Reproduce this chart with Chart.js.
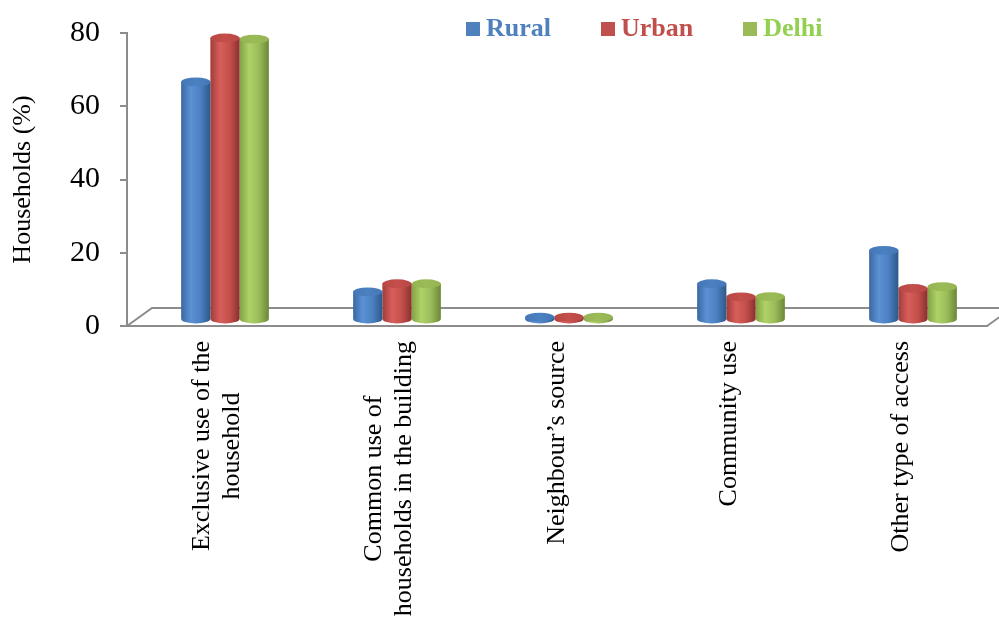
<!DOCTYPE html>
<html>
<head>
    <title>Households by type of access</title>
    <script src="https://cdn.jsdelivr.net/npm/chart.js@4.4.0/dist/chart.umd.min.js"></script>
    <style>
        body { margin: 0; background: #fff; }
        .wrap { position: relative; width: 999px; height: 622px; }
        .wrap canvas { position: absolute; left: 0; top: 0; }
        .legend {
            position: absolute; left: 466px; top: 15px;
            display: flex; gap: 50px;
            font: bold 26px "Liberation Serif", "Times New Roman", serif;
            line-height: 1;
        }
        .legend span.box {
            display: inline-block; width: 14px; height: 14px;
            margin-right: 6px; vertical-align: baseline;
        }
    </style>
</head>
<body>
<div class="wrap">
    <canvas id="accessChart" width="999" height="622"></canvas>
    <div class="legend" id="legend"></div>
</div>

<script>
    const categories = [
        ['Exclusive use of the', 'household'],
        ['Common use of', 'households in the building'],
        ['Neighbour’s source'],
        ['Community use'],
        ['Other type of access']
    ];
    const rural = [65, 7.7, 0.8, 9.9, 19];
    const urban = [77, 9.9, 0.8, 6.3, 8.6];
    const delhi = [76.7, 9.9, 0.8, 6.4, 9.1];
    const yTicks = [0, 20, 40, 60, 80];

    const AXIS_GREY = '#8c8c8c';
    const SERIF = '"Liberation Serif", "Times New Roman", serif';

    // floor depth of the 3D plot, bars stand half way back
    const FLOOR_DX = 25, FLOOR_DY = 18;
    const BAR_DX = 12, BAR_DY = -6;

    const series = [
        { label: 'Rural', data: rural, color: '#4F81BD', text: '#4F81BD',
          body: ['#3a68a3', '#5b92d5', '#4b80c1', '#2e5889'], top: '#4477b7' },
        { label: 'Urban', data: urban, color: '#C0504D', text: '#C0504D',
          body: ['#a23c39', '#d85f5b', '#c44f4b', '#8a302d'], top: '#b84743' },
        { label: 'Delhi', data: delhi, color: '#9BBB59', text: '#92D050',
          body: ['#83a245', '#afd268', '#9bbb59', '#6b8736'], top: '#95b553' }
    ];

    function drawCylinder(ctx, cx, top, bottom, w, s) {
        const rx = w / 2, ry = w * 0.15;
        const l = cx - rx;
        const g = ctx.createLinearGradient(l, 0, l + w, 0);
        s.body.forEach((c, i) => g.addColorStop(i / (s.body.length - 1), c));
        ctx.fillStyle = g;
        ctx.beginPath();
        ctx.moveTo(l, top);
        ctx.lineTo(l, bottom);
        ctx.ellipse(cx, bottom, rx, ry, 0, Math.PI, 0, true);
        ctx.lineTo(l + w, top);
        ctx.closePath();
        ctx.fill();

        const tg = ctx.createLinearGradient(l, 0, l + w, 0);
        tg.addColorStop(0, s.top);
        tg.addColorStop(0.5, s.body[2]);
        tg.addColorStop(1, s.top);
        ctx.fillStyle = tg;
        ctx.beginPath();
        ctx.ellipse(cx, top, rx, ry, 0, 0, Math.PI * 2);
        ctx.fill();
    }

    // replaces the flat bars with shaded cylinders
    const cylinders = {
        id: 'cylinders',
        beforeDatasetDraw(chart, args) {
            const s = series[args.index];
            const ctx = chart.ctx;
            ctx.save();
            args.meta.data.forEach(bar => {
                const p = bar.getProps(['x', 'y', 'base', 'width'], true);
                drawCylinder(ctx, p.x + BAR_DX, p.y + BAR_DY, p.base + BAR_DY, p.width, s);
            });
            ctx.restore();
            return false;
        }
    };

    // back edge and sides of the floor
    const floor = {
        id: 'floor',
        beforeDatasetsDraw(chart) {
            const { ctx, chartArea: a } = chart;
            ctx.save();
            ctx.strokeStyle = AXIS_GREY;
            ctx.lineWidth = 2;
            ctx.beginPath();
            ctx.moveTo(a.left, a.bottom);
            ctx.lineTo(a.left + FLOOR_DX, a.bottom - FLOOR_DY);
            ctx.lineTo(a.right + FLOOR_DX, a.bottom - FLOOR_DY);
            ctx.moveTo(a.right, a.bottom);
            ctx.lineTo(a.right + FLOOR_DX, a.bottom - FLOOR_DY);
            ctx.stroke();
            ctx.restore();
        }
    };

    // vertical category labels, each line centred
    const LABEL_TOP = 341, LINE_GAP = 30, WRAP_SHIFT = 4;
    const xLabels = {
        id: 'xLabels',
        afterDraw(chart) {
            const ctx = chart.ctx, xs = chart.scales.x;
            ctx.save();
            ctx.font = '26px ' + SERIF;
            ctx.fillStyle = '#000';
            ctx.textAlign = 'center';
            ctx.textBaseline = 'middle';
            chart.data.labels.forEach((lines, i) => {
                const x = xs.getPixelForTick(i) + (lines.length - 1) * WRAP_SHIFT;
                const longest = Math.max(...lines.map(t => ctx.measureText(t).width));
                ctx.save();
                ctx.translate(x, LABEL_TOP + longest / 2);
                ctx.rotate(-Math.PI / 2);
                lines.forEach((t, j) => ctx.fillText(t, 0, (j - (lines.length - 1) / 2) * LINE_GAP));
                ctx.restore();
            });
            ctx.restore();
        }
    };

    const ctx = document.getElementById('accessChart').getContext('2d');
    const chart = new Chart(ctx, {
        type: 'bar',
        data: {
            labels: categories,
            datasets: series.map(s => ({
                label: s.label,
                data: s.data,
                backgroundColor: s.color,
                categoryPercentage: 0.51,
                barPercentage: 1
            }))
        },
        options: {
            responsive: false,
            animation: false,
            layout: { padding: { top: 33, right: 12, left: 0, bottom: 0 } },
            plugins: {
                legend: { display: false },
                tooltip: { enabled: false }
            },
            scales: {
                x: {
                    grid: { display: false },
                    border: { display: true, color: AXIS_GREY, width: 2 },
                    ticks: { display: false },
                    afterFit(scale) { scale.height = 296; }
                },
                y: {
                    min: 0,
                    max: 80,
                    afterBuildTicks(scale) { scale.ticks = yTicks.map(v => ({ value: v })); },
                    afterFit(scale) { scale.width = 127; },
                    grid: { drawOnChartArea: false, drawTicks: true, tickLength: 7, color: AXIS_GREY, lineWidth: 2 },
                    border: { display: true, color: AXIS_GREY, width: 2 },
                    ticks: { color: '#000', padding: 20, font: { family: SERIF, size: 30, lineHeight: 0.8 } },
                    title: {
                        display: true,
                        text: 'Households (%)',
                        color: '#000',
                        padding: { top: 8, bottom: 0 },
                        font: { family: SERIF, size: 26 }
                    }
                }
            }
        },
        plugins: [floor, cylinders, xLabels]
    });

    // legend with series-coloured text
    const legend = document.getElementById('legend');
    series.forEach(s => {
        const item = document.createElement('div');
        item.style.color = s.text;
        item.innerHTML = '<span class="box" style="background:' + s.color + '"></span>' + s.label;
        legend.appendChild(item);
    });
</script>
</body>
</html>
